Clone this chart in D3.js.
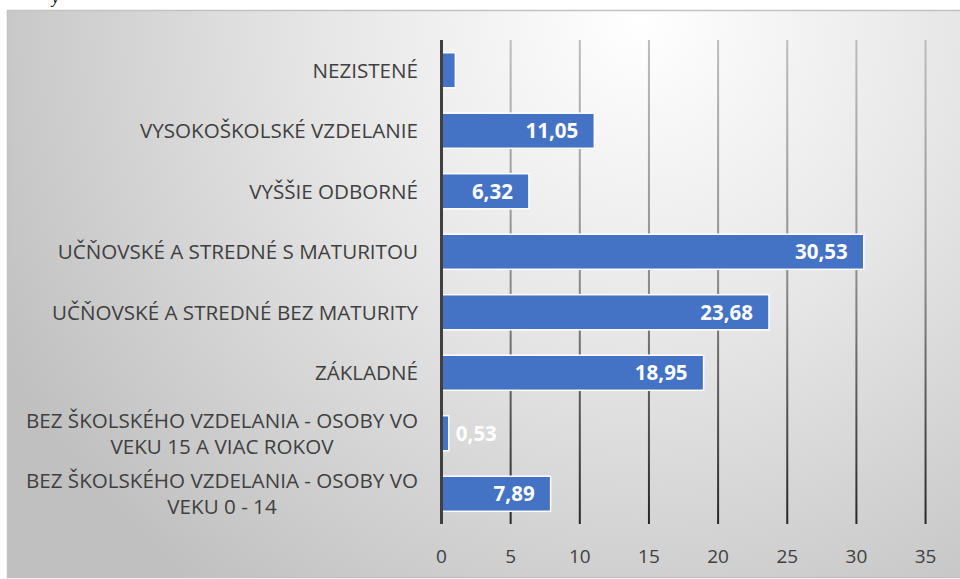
<!DOCTYPE html>
<html>
<head>
<meta charset="utf-8">
<script src="https://cdn.jsdelivr.net/npm/d3@7"></script>
<style>
  html, body { margin: 0; padding: 0; background: #fff; }
  svg { display: block; }
</style>
</head>
<body>
<svg id="chart"></svg>
<script>
// categories from bottom to top, as in the source chart
const categories = [
  ['BEZ ŠKOLSKÉHO VZDELANIA - OSOBY VO', 'VEKU 0 - 14'],
  ['BEZ ŠKOLSKÉHO VZDELANIA - OSOBY VO', 'VEKU 15 A VIAC ROKOV'],
  ['ZÁKLADNÉ'],
  ['UČŇOVSKÉ A STREDNÉ BEZ MATURITY'],
  ['UČŇOVSKÉ A STREDNÉ S MATURITOU'],
  ['VYŠŠIE ODBORNÉ'],
  ['VYSOKOŠKOLSKÉ VZDELANIE'],
  ['NEZISTENÉ']
];
const values = [7.89, 0.53, 18.95, 23.68, 30.53, 6.32, 11.05, 1.0];
const valueLabels = ['7,89', '0,53', '18,95', '23,68', '30,53', '6,32', '11,05', ''];
const ticks = [0, 5, 10, 15, 20, 25, 30, 35];

const width = 960, height = 579;
const margin = { top: 40, right: 34, bottom: 55, left: 441.5 };

const svg = d3.select('#chart')
  .attr('width', width)
  .attr('height', height);

const defs = svg.append('defs');
const bg = defs.append('radialGradient')
  .attr('id', 'bg')
  .attr('gradientUnits', 'userSpaceOnUse')
  .attr('cx', 640).attr('cy', 20).attr('r', 720);
bg.append('stop').attr('offset', 0).attr('stop-color', '#ffffff');
bg.append('stop').attr('offset', 0.45).attr('stop-color', '#e6e6e6');
bg.append('stop').attr('offset', 1).attr('stop-color', '#c0c0c0');

const gridGrad = defs.append('linearGradient')
  .attr('id', 'grid')
  .attr('gradientUnits', 'userSpaceOnUse')
  .attr('x1', 0).attr('x2', 0)
  .attr('y1', margin.top).attr('y2', height - margin.bottom);
gridGrad.append('stop').attr('offset', 0).attr('stop-color', '#bdbdbd');
gridGrad.append('stop').attr('offset', 0.5).attr('stop-color', '#8a8a8a');
gridGrad.append('stop').attr('offset', 1).attr('stop-color', '#262626');

// stray glyph from the text above the chart
svg.append('text')
  .attr('x', 52).attr('y', 3)
  .attr('font-family', 'Liberation Serif, serif')
  .attr('font-style', 'italic')
  .attr('font-size', 16)
  .attr('fill', '#000')
  .text('y');

// chart area
svg.append('rect')
  .attr('x', 7.5).attr('y', 10.5)
  .attr('width', width).attr('height', height - 12)
  .attr('fill', 'url(#bg)')
  .attr('stroke', '#c2c2c2')
  .attr('stroke-width', 1.5);

const x = d3.scaleLinear()
  .domain([0, 35])
  .range([margin.left, margin.left + 35 * 13.83]);

const y = d3.scaleBand()
  .domain(d3.range(categories.length))
  .range([height - margin.bottom, margin.top])
  .paddingInner(0.42)
  .paddingOuter(0.21);

// grid
svg.append('g')
  .selectAll('line')
  .data(ticks.slice(1))
  .join('line')
  .attr('x1', d => x(d)).attr('x2', d => x(d))
  .attr('y1', margin.top).attr('y2', height - margin.bottom)
  .attr('stroke', 'url(#grid)')
  .attr('stroke-width', 2);

// tick labels
svg.append('g')
  .selectAll('text')
  .data(ticks)
  .join('text')
  .attr('x', d => x(d))
  .attr('y', 563)
  .attr('text-anchor', 'middle')
  .attr('font-family', 'Open Sans, sans-serif')
  .attr('font-size', 19)
  .attr('fill', '#404040')
  .text(d => d);

// bars
svg.append('g')
  .selectAll('rect')
  .data(values)
  .join('rect')
  .attr('x', x(0))
  .attr('y', (d, i) => y(i))
  .attr('width', d => x(d) - x(0))
  .attr('height', y.bandwidth())
  .attr('fill', '#4472c4')
  .attr('stroke', '#ffffff')
  .attr('stroke-width', 1.5);

// zero axis
svg.append('line')
  .attr('x1', x(0)).attr('x2', x(0))
  .attr('y1', margin.top).attr('y2', height - margin.bottom)
  .attr('stroke', '#404040')
  .attr('stroke-width', 3);

// value labels
svg.append('g')
  .selectAll('text')
  .data(values)
  .join('text')
  .attr('x', d => d < 2 ? x(d) + 7 : x(d) - 16)
  .attr('y', (d, i) => y(i) + y.bandwidth() / 2)
  .attr('dy', '0.36em')
  .attr('text-anchor', d => d < 2 ? 'start' : 'end')
  .attr('font-family', 'Open Sans, sans-serif')
  .attr('font-weight', 'bold')
  .attr('font-size', 20.5)
  .attr('fill', '#ffffff')
  .text((d, i) => valueLabels[i]);

// category labels
const cat = svg.append('g')
  .selectAll('text')
  .data(categories)
  .join('text')
  .attr('font-family', 'Open Sans, sans-serif')
  .attr('font-size', 20.6)
  .attr('fill', '#404040')
  .attr('text-anchor', d => d.length > 1 ? 'middle' : 'end')
  .attr('transform', (d, i) => `translate(${d.length > 1 ? 222 : 418}, ${y(i) + y.bandwidth() / 2})`);

cat.selectAll('tspan')
  .data(d => d.map((t, j) => ({ t, j, n: d.length })))
  .join('tspan')
  .attr('x', 0)
  .attr('y', d => (d.j - (d.n - 1) / 2) * 26)
  .attr('dy', '0.36em')
  .text(d => d.t);
</script>
</body>
</html>
